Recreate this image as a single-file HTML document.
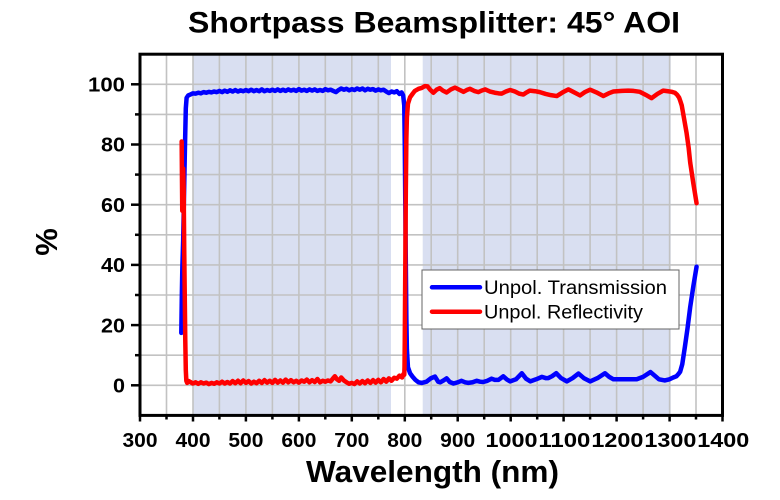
<!DOCTYPE html>
<html>
<head>
<meta charset="utf-8">
<style>
  html, body { margin: 0; padding: 0; background: #ffffff; }
  svg { display: block; }
  text { font-family: "Liberation Sans", Arial, sans-serif; }
</style>
</head>
<body>
<svg width="780" height="500" viewBox="0 0 780 500" xmlns="http://www.w3.org/2000/svg">
  <rect x="0" y="0" width="780" height="500" fill="#ffffff"/>

  <!-- Title -->
  <text x="188" y="32.5" font-size="30" font-weight="bold" fill="#000" textLength="492" lengthAdjust="spacingAndGlyphs">Shortpass Beamsplitter: 45° AOI</text>

  <!-- Shaded bands -->
  <rect x="193" y="54.2" width="198" height="361.2" fill="#d9dff1"/>
  <rect x="422.7" y="54.2" width="248" height="361.2" fill="#d9dff1"/>

  <!-- Grid -->
  <g stroke="#c2c2c2" stroke-width="1.6" fill="none">
    <line x1="166.5" y1="54.2" x2="166.5" y2="415.4"/>
    <line x1="193.0" y1="54.2" x2="193.0" y2="415.4"/>
    <line x1="219.4" y1="54.2" x2="219.4" y2="415.4"/>
    <line x1="245.9" y1="54.2" x2="245.9" y2="415.4"/>
    <line x1="272.4" y1="54.2" x2="272.4" y2="415.4"/>
    <line x1="298.9" y1="54.2" x2="298.9" y2="415.4"/>
    <line x1="325.3" y1="54.2" x2="325.3" y2="415.4"/>
    <line x1="351.8" y1="54.2" x2="351.8" y2="415.4"/>
    <line x1="378.3" y1="54.2" x2="378.3" y2="415.4"/>
    <line x1="404.8" y1="54.2" x2="404.8" y2="415.4"/>
    <line x1="431.2" y1="54.2" x2="431.2" y2="415.4"/>
    <line x1="457.7" y1="54.2" x2="457.7" y2="415.4"/>
    <line x1="484.2" y1="54.2" x2="484.2" y2="415.4"/>
    <line x1="510.7" y1="54.2" x2="510.7" y2="415.4"/>
    <line x1="537.2" y1="54.2" x2="537.2" y2="415.4"/>
    <line x1="563.6" y1="54.2" x2="563.6" y2="415.4"/>
    <line x1="590.1" y1="54.2" x2="590.1" y2="415.4"/>
    <line x1="616.6" y1="54.2" x2="616.6" y2="415.4"/>
    <line x1="643.1" y1="54.2" x2="643.1" y2="415.4"/>
    <line x1="669.6" y1="54.2" x2="669.6" y2="415.4"/>
    <line x1="696.0" y1="54.2" x2="696.0" y2="415.4"/>
    <line x1="140" y1="385.3" x2="722.5" y2="385.3"/>
    <line x1="140" y1="355.2" x2="722.5" y2="355.2"/>
    <line x1="140" y1="325.1" x2="722.5" y2="325.1"/>
    <line x1="140" y1="295.0" x2="722.5" y2="295.0"/>
    <line x1="140" y1="264.9" x2="722.5" y2="264.9"/>
    <line x1="140" y1="234.8" x2="722.5" y2="234.8"/>
    <line x1="140" y1="204.7" x2="722.5" y2="204.7"/>
    <line x1="140" y1="174.6" x2="722.5" y2="174.6"/>
    <line x1="140" y1="144.5" x2="722.5" y2="144.5"/>
    <line x1="140" y1="114.4" x2="722.5" y2="114.4"/>
    <line x1="140" y1="84.3" x2="722.5" y2="84.3"/>
  </g>

  <!-- Data (data coords: nm, %) -->
  <g transform="matrix(0.52955 0 0 -3.01 -18.865 385.3)" fill="none" stroke-linejoin="round" stroke-linecap="round">
    <polyline vector-effect="non-scaling-stroke" stroke="#0000ff" stroke-width="4.5" points="
378,17.4 379,30 380,39.4 381.5,48 383,62 385,80 386.5,92 388,95.5 391,96.3 395,96.6
400,97.0 405,96.9 410,97.2 415,97.0 420,97.4 425,97.2 430,97.5 435,97.3 440,97.6 445,97.4
450,97.8 455,97.4 460,97.9 465,97.5 470,98.0 475,97.6 480,98.1 485,97.6 490,98.0 495,97.7
500,98.1 505,97.7 510,98.2 515,97.7 520,98.1 525,97.7 530,98.3 535,97.7 540,98.1 545,97.8
550,98.2 555,97.8 560,98.3 565,97.8 570,98.2 575,97.8 580,98.3 585,97.9 590,98.2 595,97.8
600,98.4 605,97.9 610,98.2 615,97.8 620,98.3 625,97.9 630,98.3 635,97.8 640,98.1 645,97.8
650,98.4 655,98.0 660,98.2 665,97.8 670,97.4 675,98.1 680,98.6 685,98.2 690,98.5 695,98.0
700,98.4 705,98.1 710,98.6 715,98.2 720,98.6 725,98.0 730,98.5 735,98.2 740,98.4 745,97.9
750,98.3 755,98.0 760,98.2 765,97.6 770,97.1 775,97.6 780,97.3 785,97.7 790,96.8 794,97.3
797,96.3 799,93 800,80 801,60 802,40 803,22 804,12 806,6 810,4 815,2.8 820,1.8 826,1.0
832,0.8 841,1.2 849,2.3 857,2.9 863,1.2 867,1.0 873,1.6 879,2.3 885,1.1 892,0.6 900,1.0
907,1.5 914,1.0 920,0.8 928,1.0 936,1.5 942,1.2 948,1.1 956,1.5 964,2.2 970,1.8 977,1.8
986,3.0 993,1.9 999,1.3 1010,2.0 1021,4.0 1029,2.2 1037,1.3 1048,2.0 1059,2.8 1066,2.4
1071,2.4 1078,3.0 1086,4.0 1095,2.4 1106,1.3 1117,2.4 1128,3.9 1138,2.4 1150,1.3 1164,2.4
1178,4.0 1186,2.8 1194,2.0 1210,2.0 1225,2.0 1238,2.0 1250,2.8 1264,4.4 1272,3.2 1280,2.0
1291,1.6 1300,2.0 1307,2.6 1313,3.0 1317,3.8 1320,4.5 1324,7 1329,12.8 1334,19 1339,26
1345,33 1351,39.4"/>
    <polyline vector-effect="non-scaling-stroke" stroke="#ff0000" stroke-width="4.5" points="
378.7,81 379.2,70 379.8,58 380.5,66 381.5,72 382.5,65 383.5,45 384.5,30 385.5,15 386.5,5
387.5,1.5 389,0.8 392,1.4 395,1.1 400,0.6 405,1.0 410,0.5 415,1.0 420,0.6 425,0.9 430,0.4
435,0.8 440,0.5 445,1.0 450,0.6 455,1.2 460,0.6 465,1.1 470,0.6 475,1.4 480,0.7 485,1.5
490,0.7 495,1.6 500,0.8 505,1.4 510,0.6 515,1.2 520,0.7 525,1.5 530,0.8 535,1.7 540,0.9
545,1.5 550,0.8 555,1.8 560,0.9 565,1.6 570,0.9 575,1.9 580,1.0 585,1.7 590,1.0 595,1.5
600,0.9 605,1.6 610,1.2 615,1.9 620,1.0 625,1.7 630,1.1 635,2.1 640,1.0 645,1.5 650,1.2
655,1.6 660,1.3 665,2.4 668,3.0 672,2.0 676,1.5 680,2.6 685,1.6 690,1.0 695,0.5 700,0.8
705,0.4 710,1.3 715,0.6 720,1.4 725,0.7 730,1.6 735,0.8 740,1.7 745,0.9 750,1.8 755,1.0
760,2.1 765,1.2 770,2.3 775,1.5 780,2.5 785,2.2 790,3.2 795,2.6 797,3.6 799,3.5 799.5,6
800,15 801,40 802,65 803,82 804,89 806,93.5 810,95.7 815,96.9 819,97.8 826,98.5 832,98.8
838,99.4 843,99.3 848,98.2 854,97.2 860,98.2 866,98.7 872,97.9 879,97.3 887,98.3 895,98.9
903,98.2 911,97.5 917,98.1 923,98.5 931,97.8 939,97.4 945,97.9 952,98.3 961,97.6 970,97.2
977,97.0 983,96.9 991,97.6 999,98.1 1008,97.6 1016,96.9 1024,96.6 1030,97.3 1036,97.9
1046,97.7 1055,97.4 1066,96.8 1076,96.4 1087,96.1 1098,97.3 1109,98.3 1120,97.3 1131,96.3
1140,97.4 1150,98.2 1162,97.3 1175,96.1 1185,97 1194,97.6 1210,97.8 1222,97.9 1232,97.8
1244,97.5 1255,96.5 1266,95.4 1277,96.8 1288,97.9 1297,97.7 1304,97.5 1310,97.2 1314,96.6
1318,95.6 1320,94.6 1323,93 1327,89 1332,84 1336,79 1339,74 1345,67 1351,60.5"/>
  </g>

  <!-- Axes frame -->
  <rect x="140" y="54.2" width="582.5" height="361.2" fill="none" stroke="#000" stroke-width="3"/>

  <!-- Y ticks -->
  <g stroke="#000" stroke-width="2.5">
    <line x1="131" y1="385.3" x2="140" y2="385.3"/>
    <line x1="131" y1="325.1" x2="140" y2="325.1"/>
    <line x1="131" y1="264.9" x2="140" y2="264.9"/>
    <line x1="131" y1="204.7" x2="140" y2="204.7"/>
    <line x1="131" y1="144.5" x2="140" y2="144.5"/>
    <line x1="131" y1="84.3" x2="140" y2="84.3"/>
    <line x1="135" y1="355.2" x2="140" y2="355.2"/>
    <line x1="135" y1="295.0" x2="140" y2="295.0"/>
    <line x1="135" y1="234.8" x2="140" y2="234.8"/>
    <line x1="135" y1="174.6" x2="140" y2="174.6"/>
    <line x1="135" y1="114.4" x2="140" y2="114.4"/>
  </g>

  <!-- X ticks -->
  <g stroke="#000" stroke-width="2.5">
    <line x1="140" y1="415" x2="140" y2="421.5"/>
    <line x1="193.0" y1="415" x2="193.0" y2="421.5"/>
    <line x1="245.9" y1="415" x2="245.9" y2="421.5"/>
    <line x1="298.9" y1="415" x2="298.9" y2="421.5"/>
    <line x1="351.8" y1="415" x2="351.8" y2="421.5"/>
    <line x1="404.8" y1="415" x2="404.8" y2="421.5"/>
    <line x1="457.7" y1="415" x2="457.7" y2="421.5"/>
    <line x1="510.7" y1="415" x2="510.7" y2="421.5"/>
    <line x1="563.6" y1="415" x2="563.6" y2="421.5"/>
    <line x1="616.6" y1="415" x2="616.6" y2="421.5"/>
    <line x1="669.6" y1="415" x2="669.6" y2="421.5"/>
    <line x1="722.5" y1="415" x2="722.5" y2="421.5"/>
    <line x1="166.5" y1="415" x2="166.5" y2="419.5"/>
    <line x1="219.4" y1="415" x2="219.4" y2="419.5"/>
    <line x1="272.4" y1="415" x2="272.4" y2="419.5"/>
    <line x1="325.3" y1="415" x2="325.3" y2="419.5"/>
    <line x1="378.3" y1="415" x2="378.3" y2="419.5"/>
    <line x1="431.2" y1="415" x2="431.2" y2="419.5"/>
    <line x1="484.2" y1="415" x2="484.2" y2="419.5"/>
    <line x1="537.2" y1="415" x2="537.2" y2="419.5"/>
    <line x1="590.1" y1="415" x2="590.1" y2="419.5"/>
    <line x1="643.1" y1="415" x2="643.1" y2="419.5"/>
    <line x1="696.0" y1="415" x2="696.0" y2="419.5"/>
  </g>

  <!-- Y tick labels -->
  <g font-size="20" font-weight="bold" fill="#000" text-anchor="end">
    <text x="125" y="392.5" textLength="12" lengthAdjust="spacingAndGlyphs">0</text>
    <text x="125" y="332.3" textLength="24" lengthAdjust="spacingAndGlyphs">20</text>
    <text x="125" y="272.1" textLength="24" lengthAdjust="spacingAndGlyphs">40</text>
    <text x="125" y="211.9" textLength="24" lengthAdjust="spacingAndGlyphs">60</text>
    <text x="125" y="151.7" textLength="24" lengthAdjust="spacingAndGlyphs">80</text>
    <text x="125" y="91.5" textLength="37" lengthAdjust="spacingAndGlyphs">100</text>
  </g>

  <!-- X tick labels -->
  <g font-size="20" font-weight="bold" fill="#000" text-anchor="middle">
    <text x="140" y="447" textLength="35" lengthAdjust="spacingAndGlyphs">300</text>
    <text x="193.0" y="447" textLength="35" lengthAdjust="spacingAndGlyphs">400</text>
    <text x="245.9" y="447" textLength="35" lengthAdjust="spacingAndGlyphs">500</text>
    <text x="298.9" y="447" textLength="35" lengthAdjust="spacingAndGlyphs">600</text>
    <text x="351.8" y="447" textLength="35" lengthAdjust="spacingAndGlyphs">700</text>
    <text x="404.8" y="447" textLength="35" lengthAdjust="spacingAndGlyphs">800</text>
    <text x="457.7" y="447" textLength="35" lengthAdjust="spacingAndGlyphs">900</text>
    <text x="511.5" y="447" textLength="52" lengthAdjust="spacingAndGlyphs">1000</text>
    <text x="564.4" y="447" textLength="52" lengthAdjust="spacingAndGlyphs">1100</text>
    <text x="617.4" y="447" textLength="52" lengthAdjust="spacingAndGlyphs">1200</text>
    <text x="670.4" y="447" textLength="52" lengthAdjust="spacingAndGlyphs">1300</text>
    <text x="723.3" y="447" textLength="52" lengthAdjust="spacingAndGlyphs">1400</text>
  </g>

  <!-- Axis titles -->
  <text x="306" y="482" font-size="31" font-weight="bold" fill="#000" textLength="253" lengthAdjust="spacingAndGlyphs">Wavelength (nm)</text>
  <text transform="translate(57,242) rotate(-90)" font-size="31" font-weight="bold" fill="#000" text-anchor="middle">%</text>

  <!-- Legend -->
  <rect x="422" y="270" width="257" height="59" fill="#ffffff" stroke="#666666" stroke-width="1"/>
  <line x1="432" y1="287.3" x2="480" y2="287.3" stroke="#0000ff" stroke-width="4.5" stroke-linecap="round"/>
  <line x1="432" y1="311.7" x2="480" y2="311.7" stroke="#ff0000" stroke-width="4.5" stroke-linecap="round"/>
  <text x="484" y="294" font-size="19" fill="#000" textLength="183" lengthAdjust="spacingAndGlyphs">Unpol. Transmission</text>
  <text x="484" y="318.5" font-size="19" fill="#000" textLength="159" lengthAdjust="spacingAndGlyphs">Unpol. Reflectivity</text>
</svg>
</body>
</html>
